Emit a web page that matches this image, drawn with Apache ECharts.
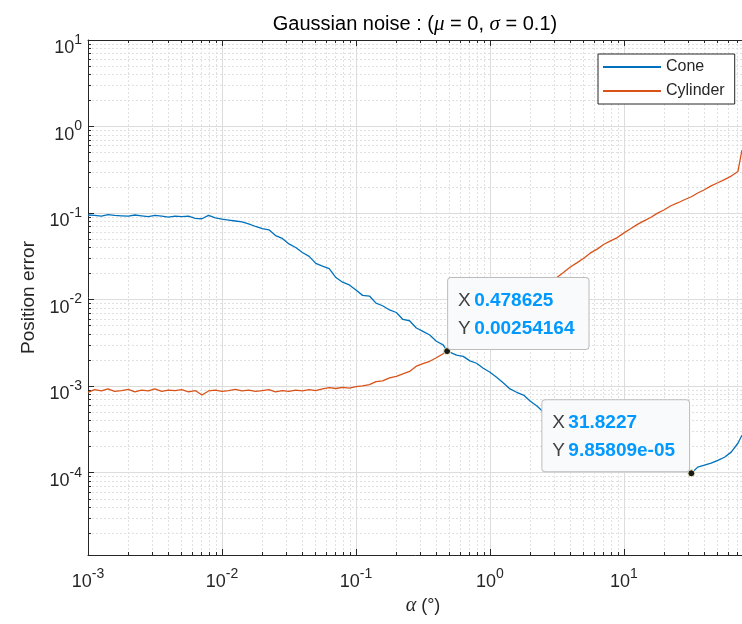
<!DOCTYPE html>
<html>
<head>
<meta charset="utf-8">
<script src="https://cdn.jsdelivr.net/npm/echarts@6/dist/echarts.min.js"></script>
<style>
html, body { margin: 0; padding: 0; background: #fff; }
#chart { width: 742px; height: 624px; }
</style>
</head>
<body>
<div id="chart"></div>
<script>
// alpha (deg), log spaced
const alpha = [
    0.001, 0.00112, 0.00126, 0.00141, 0.00158, 0.00178, 0.002, 0.00224, 0.00251, 0.00282,
    0.00316, 0.00355, 0.00398, 0.00447, 0.00501, 0.00562, 0.00631, 0.00708, 0.00794, 0.00891,
    0.01, 0.0112, 0.0126, 0.0141, 0.0158, 0.0178, 0.02, 0.0224, 0.0251, 0.0282,
    0.0316, 0.0355, 0.0398, 0.0447, 0.0501, 0.0562, 0.0631, 0.0708, 0.0794, 0.0891,
    0.1, 0.112, 0.126, 0.141, 0.158, 0.178, 0.2, 0.224, 0.251, 0.282,
    0.316, 0.355, 0.398, 0.447, 0.478625, 0.501, 0.562, 0.631, 0.708, 0.794,
    0.891, 1, 1.12, 1.26, 1.41, 1.58, 1.78, 2, 2.24, 2.51,
    2.82, 3.16, 3.55, 3.98, 4.47, 5.01, 5.62, 6.31, 7.08, 7.94,
    8.91, 10, 11.2, 12.6, 14.1, 15.8, 17.8, 20, 22.4, 25.1,
    28.2, 31.8227, 35.5, 39.8, 44.7, 50.1, 56.2, 63.1, 70.8, 75.9
];
const cone = [
    0.095, 0.094, 0.092, 0.096, 0.094, 0.093, 0.092, 0.095, 0.093, 0.091,
    0.094, 0.092, 0.090, 0.092, 0.091, 0.092, 0.087, 0.086, 0.094, 0.088,
    0.085, 0.083, 0.081, 0.079, 0.075, 0.070, 0.066, 0.064, 0.055, 0.051,
    0.044, 0.040, 0.035, 0.0316, 0.0262, 0.0244, 0.0228, 0.0180, 0.0159, 0.0148,
    0.0129, 0.0112, 0.0110, 0.0091, 0.0085, 0.0076, 0.0071, 0.0059, 0.0057, 0.0047,
    0.0043, 0.0039, 0.0033, 0.0030, 0.00254164, 0.00247, 0.00228, 0.00221, 0.00196, 0.00184,
    0.00161, 0.00145, 0.00127, 0.00109, 0.00093, 0.00085, 0.00079, 0.00067, 0.00059, 0.00050,
    0.000474, 0.000438, 0.000405, 0.000374, 0.000345, 0.000318, 0.000294, 0.000271, 0.000250, 0.000231,
    0.000214, 0.000202, 0.000187, 0.000173, 0.000164, 0.000151, 0.000143, 0.000132, 0.000125, 0.000119,
    0.000116, 9.85809e-5, 0.000116, 0.000122, 0.000129, 0.000139, 0.000151, 0.000173, 0.000219, 0.000271
];
const cylinder = [
    0.00085, 0.00091, 0.00088, 0.00093, 0.00087, 0.00089, 0.00092, 0.00086, 0.00090, 0.00088,
    0.00093, 0.00087, 0.00090, 0.00089, 0.00091, 0.00086, 0.00089, 0.00079, 0.00088, 0.00090,
    0.00087, 0.00089, 0.00092, 0.00088, 0.00090, 0.00087, 0.00089, 0.00091, 0.00086, 0.00089,
    0.00087, 0.00090, 0.00088, 0.00091, 0.00089, 0.00093, 0.00096, 0.00094, 0.00097, 0.00095,
    0.00099, 0.00101, 0.00104, 0.00113, 0.00115, 0.00125, 0.00130, 0.00139, 0.00148, 0.00170,
    0.00182, 0.00194, 0.00213, 0.00237, 0.00254164, 0.00268, 0.00301, 0.00338, 0.00383, 0.00432,
    0.00482, 0.00546, 0.00619, 0.00689, 0.00781, 0.00885, 0.00995, 0.01115, 0.01264, 0.01421,
    0.01594, 0.01806, 0.02074, 0.0238, 0.02677, 0.0301, 0.03467, 0.03836, 0.0436, 0.04772,
    0.0521, 0.05904, 0.06585, 0.0740, 0.08124, 0.0890, 0.1, 0.1092, 0.1215, 0.1309,
    0.1426, 0.1545, 0.1708, 0.1860, 0.2065, 0.2240, 0.2440, 0.2677, 0.3020, 0.5347
];
// data tips: x, y and the text shown in the box
const tips = [
    [0.478625, 0.00254164, '0.478625', '0.00254164'],
    [31.8227, 9.85809e-5, '31.8227', '9.85809e-05']
];

const font = 'Liberation Sans, Arial, Helvetica, sans-serif';
const axisColor = '#262626';

function powLabel(v) {
    const e = Math.round(Math.log10(v));
    return '{b|10}{e|' + e + '}';
}
const powRich = {
    b: { fontSize: 18, fontFamily: font, color: axisColor, lineHeight: 24, verticalAlign: 'bottom' },
    e: { fontSize: 14, fontFamily: font, color: axisColor, lineHeight: 13, verticalAlign: 'top' }
};

function logAxis(extra) {
    return Object.assign({
        type: 'log',
        logBase: 10,
        axisLine: { show: true, onZero: false, lineStyle: { color: axisColor, width: 1 } },
        axisTick: { show: true, inside: true, length: 6, lineStyle: { color: axisColor } },
        minorTick: { show: true, splitNumber: 9, length: 3, lineStyle: { color: axisColor } },
        splitLine: { show: true, lineStyle: { color: '#dcdcdc', width: 1 } },
        minorSplitLine: { show: true, lineStyle: { color: '#e0e0e0', width: 1, type: [2, 2] } },
        axisLabel: { formatter: powLabel, rich: powRich }
    }, extra);
}

const tipRich = {
    k: { fontSize: 19, fontFamily: font, color: '#404040', lineHeight: 28 },
    v: { fontSize: 19, fontFamily: font, color: '#0099ff', fontWeight: 'bold', lineHeight: 28 }
};
const tipOffsets = [[5, -69], [-145, -69]];

const chart = echarts.init(document.getElementById('chart'));
chart.setOption({
    animation: false,
    backgroundColor: '#fff',
    title: {
        text: '{n|Gaussian noise : (}{g|μ}{n| = 0, }{g|σ}{n| = 0.1)}',
        left: 410,
        top: 9,
        textAlign: 'center',
        textStyle: {
            fontWeight: 'normal',
            rich: {
                n: { fontSize: 20, fontFamily: font, fontWeight: 'normal', color: '#000' },
                g: { fontSize: 21, fontFamily: 'Liberation Serif, serif', fontWeight: 'normal', fontStyle: 'italic', color: '#000' }
            }
        }
    },
    legend: {
        orient: 'vertical',
        left: 598,
        top: 54,
        padding: [5, 10, 5, 5],
        itemGap: 8,
        itemWidth: 58,
        itemHeight: 2,
        icon: 'rect',
        borderColor: axisColor,
        borderWidth: 1,
        backgroundColor: '#fff',
        textStyle: { fontSize: 16, lineHeight: 16, fontFamily: font, color: axisColor },
        data: ['Cone', 'Cylinder']
    },
    // the axes run on to 10^2 just past the right edge of the page
    grid: { left: 88, right: -16, top: 40, bottom: 69, outerBoundsMode: 'none', containLabel: false },
    xAxis: [
        logAxis({
            min: 0.001,
            max: 100,
            axisLabel: { formatter: powLabel, rich: powRich, margin: 12, showMaxLabel: false },
            name: '{a|α} (°)',
            nameLocation: 'middle',
            nameGap: 40,
            nameTextStyle: {
                fontSize: 18, fontFamily: font, color: axisColor,
                rich: {
                    a: { fontSize: 20, fontFamily: 'Liberation Serif, serif', fontStyle: 'italic', color: axisColor }
                }
            }
        }),
        logAxis({
            position: 'top',
            min: 0.001,
            max: 100,
            axisLabel: { show: false },
            splitLine: { show: false },
            minorSplitLine: { show: false }
        })
    ],
    yAxis: logAxis({
        min: 1.12e-5,
        max: 10,
        axisLabel: { formatter: powLabel, rich: powRich, margin: 6, padding: [10, 0, 0, 0], showMinLabel: false },
        name: 'Position error',
        nameLocation: 'middle',
        nameGap: 48,
        nameTextStyle: { fontSize: 19, fontFamily: font, color: axisColor }
    }),
    series: [
        {
            name: 'Cone',
            type: 'line',
            xAxisIndex: 0,
            symbol: 'none',
            data: alpha.map((x, i) => [x, cone[i]]),
            lineStyle: { color: '#0072BD', width: 1.3 },
            itemStyle: { color: '#0072BD' }
        },
        {
            name: 'Cylinder',
            type: 'line',
            xAxisIndex: 0,
            symbol: 'none',
            data: alpha.map((x, i) => [x, cylinder[i]]),
            lineStyle: { color: '#D95319', width: 1.3 },
            itemStyle: { color: '#D95319' },
            markPoint: {
                symbol: 'circle',
                symbolSize: 7,
                itemStyle: { color: '#1a1a1a', borderColor: '#f4f4c8', borderWidth: 1 },
                data: tips.map((t, i) => ({
                    coord: [t[0], t[1]],
                    label: {
                        show: true,
                        position: tipOffsets[i],
                        formatter: '{k|X} {v|' + t[2] + '}\n{k|Y} {v|' + t[3] + '}',
                        rich: tipRich,
                        backgroundColor: '#f9fafc',
                        borderColor: '#bdbdbd',
                        borderWidth: 1,
                        borderRadius: 3,
                        padding: [9, 14, 6, 10]
                    }
                }))
            }
        }
    ]
});
</script>
</body>
</html>
